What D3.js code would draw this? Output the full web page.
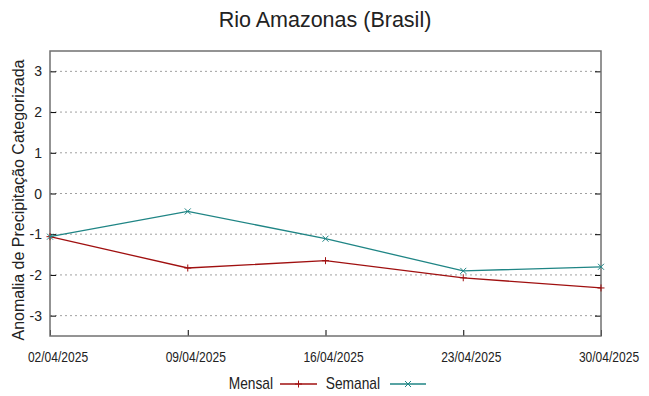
<!DOCTYPE html>
<html>
<head>
<meta charset="utf-8">
<script src="https://cdn.jsdelivr.net/npm/d3@7"></script>
<style>
  body { margin: 0; background: #fff; }
  text { fill: #222; }
</style>
</head>
<body>
<div id="chart"></div>
<script>
// Chart data
const dates = ["02/04/2025", "09/04/2025", "16/04/2025", "23/04/2025", "30/04/2025"];
const mensal = [-1.06, -1.83, -1.65, -2.07, -2.32];
const semanal = [-1.06, -0.44, -1.11, -1.90, -1.80];
const yTicks = [-3, -2, -1, 0, 1, 2, 3];

let svgWidth = 649;
let svgHeight = 396;
let margin = { top: 51, bottom: 60, left: 50, right: 48 };
let width = svgWidth - margin.left - margin.right;
let height = svgHeight - margin.top - margin.bottom;

// condensed look of the original labels
const narrow = 0.86;

let svg = d3.select("#chart")
    .append("svg")
    .attr("width", svgWidth)
    .attr("height", svgHeight);

let chartGroup = svg.append("g")
    .attr("transform", `translate(${margin.left},${margin.top})`);

let parseDate = d3.timeParse("%d/%m/%Y");
let xScale = d3.scaleTime()
    .domain([parseDate(dates[0]), parseDate(dates[dates.length - 1])])
    .range([0, width]);
let yScale = d3.scaleLinear()
    .domain([-3.5, 3.5])
    .range([height, 0]);

// dotted grid
chartGroup.append("g")
    .selectAll("line")
    .data(yTicks)
    .enter()
    .append("line")
    .attr("x1", 0)
    .attr("x2", width)
    .attr("y1", d => yScale(d))
    .attr("y2", d => yScale(d))
    .attr("stroke", "#a0a0a0")
    .attr("stroke-width", 1)
    .attr("stroke-dasharray", "2,3");

// axes, ticks pointing inward like gnuplot
let leftAxis = d3.axisRight(yScale).tickValues(yTicks).tickSize(6).tickFormat("");
let rightAxis = d3.axisLeft(yScale).tickValues(yTicks).tickSize(6).tickFormat("");
let bottomAxis = d3.axisTop(xScale).tickValues(dates.map(parseDate)).tickSize(6).tickFormat("");

chartGroup.append("g").attr("class", "tk").call(leftAxis);
chartGroup.append("g").attr("class", "tk").attr("transform", `translate(${width},0)`).call(rightAxis);
chartGroup.append("g").attr("class", "tk").attr("transform", `translate(0,${height})`).call(bottomAxis);
chartGroup.selectAll(".tk path").remove();
chartGroup.selectAll(".tk line").attr("stroke", "#000").attr("stroke-width", 1);

// border
chartGroup.append("rect")
    .attr("x", 0).attr("y", 0)
    .attr("width", width).attr("height", height)
    .attr("fill", "none")
    .attr("stroke", "#707070")
    .attr("stroke-width", 1.5);

// y tick labels
chartGroup.append("g")
    .selectAll("text")
    .data(yTicks)
    .enter()
    .append("text")
    .attr("x", -8)
    .attr("y", d => yScale(d) + 5)
    .attr("text-anchor", "end")
    .attr("font-family", "Liberation Sans, Arial, sans-serif")
    .attr("font-size", "14px")
    .text(d => d);

// x tick labels (squeezed, shifted a bit right like the original)
chartGroup.append("g")
    .selectAll("text")
    .data(dates)
    .enter()
    .append("text")
    .attr("transform", d => `translate(${xScale(parseDate(d)) + 8},${height + 26}) scale(${narrow},1)`)
    .attr("text-anchor", "middle")
    .attr("font-family", "Liberation Sans, Arial, sans-serif")
    .attr("font-size", "14px")
    .text(d => d);

// series
let series = [
    { name: "Mensal", values: mensal, color: "#a01010", marker: "plus" },
    { name: "Semanal", values: semanal, color: "#1f8585", marker: "cross" }
];

let line = d3.line()
    .x((d, i) => xScale(parseDate(dates[i])))
    .y(d => yScale(d));

function markerPath(type) {
    let s = type === "plus" ? 3.5 : 3;
    if (type === "plus") return `M${-s},0L${s},0M0,${-s}L0,${s}`;
    return `M${-s},${-s}L${s},${s}M${-s},${s}L${s},${-s}`;
}

series.forEach(sr => {
    chartGroup.append("path")
        .datum(sr.values)
        .attr("d", line)
        .attr("fill", "none")
        .attr("stroke", sr.color)
        .attr("stroke-width", 1.3);
    chartGroup.append("g")
        .selectAll("path")
        .data(sr.values)
        .enter()
        .append("path")
        .attr("transform", (d, i) => `translate(${xScale(parseDate(dates[i]))},${yScale(d)})`)
        .attr("d", markerPath(sr.marker))
        .attr("stroke", sr.color)
        .attr("stroke-width", 1);
});

// title
svg.append("text")
    .attr("x", 325)
    .attr("y", 27)
    .attr("text-anchor", "middle")
    .attr("font-family", "Liberation Sans, Arial, sans-serif")
    .attr("font-size", "21.5px")
    .text("Rio Amazonas (Brasil)");

// y axis label
svg.append("text")
    .attr("transform", `translate(24,200) rotate(-90)`)
    .attr("text-anchor", "middle")
    .attr("font-family", "Liberation Sans, Arial, sans-serif")
    .attr("font-size", "16px")
    .text("Anomalia de Precipitação Categorizada");

// legend
let legend = svg.append("g").attr("transform", "translate(0,384)");
let legendItems = [
    { textEnd: 273, x1: 280, x2: 317 },
    { textEnd: 380, x1: 390, x2: 426 }
];
series.forEach((sr, k) => {
    let it = legendItems[k];
    legend.append("text")
        .attr("transform", `translate(${it.textEnd},5) scale(${narrow},1)`)
        .attr("text-anchor", "end")
        .attr("font-family", "Liberation Sans, Arial, sans-serif")
        .attr("font-size", "16px")
        .text(sr.name);
    legend.append("line")
        .attr("x1", it.x1).attr("x2", it.x2)
        .attr("y1", 0).attr("y2", 0)
        .attr("stroke", sr.color)
        .attr("stroke-width", 1.3);
    legend.append("path")
        .attr("transform", `translate(${(it.x1 + it.x2) / 2},0)`)
        .attr("d", markerPath(sr.marker))
        .attr("stroke", sr.color)
        .attr("stroke-width", 1);
});
</script>
</body>
</html>
